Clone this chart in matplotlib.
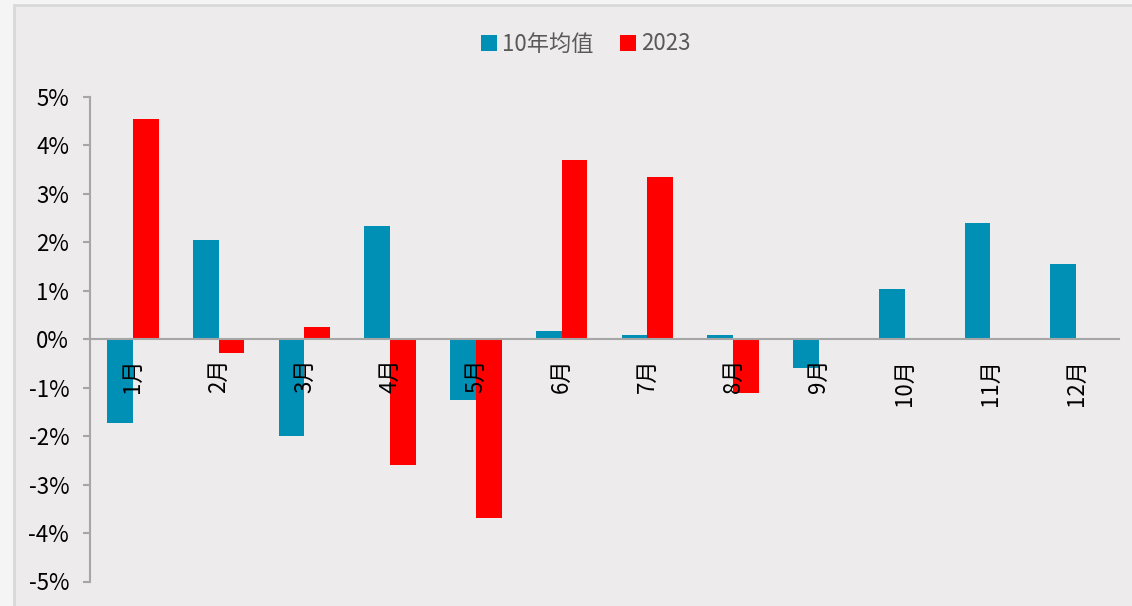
import matplotlib
matplotlib.use("Agg")
import matplotlib.pyplot as plt
from matplotlib.patches import Rectangle
from matplotlib.ticker import FuncFormatter
import numpy as np

plt.rcParams['font.family'] = ['Noto Sans CJK SC', 'DejaVu Sans']

months = ['1月', '2月', '3月', '4月', '5月', '6月', '7月', '8月', '9月', '10月', '11月', '12月']
avg_10y = [-1.72, 2.05, -2.00, 2.33, -1.26, 0.16, 0.09, 0.09, -0.59, 1.03, 2.39, 1.56]
y2023 = [4.54, -0.28, 0.25, -2.60, -3.69, 3.70, 3.35, -1.10, np.nan, np.nan, np.nan, np.nan]
series_names = ['10年均值', '2023']
yticks = [-5, -4, -3, -2, -1, 0, 1, 2, 3, 4, 5]

BLUE = '#0090B5'
RED = '#FF0000'
PANEL = '#EDEBEC'
W, H = 1132, 606

fig = plt.figure(figsize=(W / 100, H / 100), dpi=100)
fig.patch.set_facecolor('#F5F5F5')
fig.patches.append(Rectangle((14 / W, -0.05), 1.1, (601 / H) + 0.05,
                             transform=fig.transFigure, facecolor=PANEL,
                             edgecolor='#D9D9D9', linewidth=2, zorder=-1))

ax = fig.add_axes([90 / W, 24.5 / H, (1119 - 90) / W, (581.5 - 97) / H])
ax.set_zorder(2)
ax.set_facecolor('none')

x = np.arange(len(months))
bw = 0.30
ax.bar(x - bw / 2, avg_10y, width=bw, color=BLUE, label=series_names[0], zorder=1)
ax.bar(x + bw / 2, y2023, width=bw, color=RED, label=series_names[1], zorder=1)

ax.set_xlim(-0.5, len(months) - 0.5)
ax.set_ylim(-5, 5)
ax.set_yticks(yticks)
ax.yaxis.set_major_formatter(FuncFormatter(lambda v, p: f'{v:.0f}%'))

for s in ('top', 'right'):
    ax.spines[s].set_visible(False)
ax.spines['bottom'].set_position(('data', 0))
for s in ('left', 'bottom'):
    ax.spines[s].set_color('#A6A6A6')
    ax.spines[s].set_linewidth(1.5)

ax.set_xticks(x)
ax.set_xticklabels(months, rotation=90)
ax.tick_params(axis='x', length=0, pad=14, labelsize=16, labelcolor='#000000')
ax.tick_params(axis='y', length=5, width=1.5, color='#A6A6A6', pad=10,
               labelsize=16, labelcolor='#000000')

leg = fig.legend(loc='center', bbox_to_anchor=(586 / W, 1 - 44 / H), ncol=2,
                 frameon=False, fontsize=16, handlelength=0.7, handleheight=0.7,
                 handletextpad=0.25, columnspacing=1.2, labelcolor='#595959')
leg.set_zorder(3)

fig.savefig('out.png', dpi=100, facecolor=fig.get_facecolor())
